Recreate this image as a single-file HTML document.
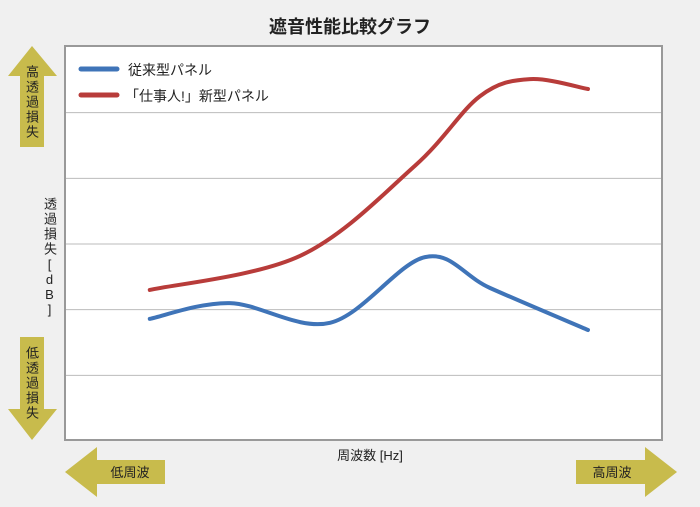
<!DOCTYPE html>
<html><head><meta charset="utf-8"><style>
body{margin:0;background:#f0f0f0;font-family:"Liberation Sans","Noto Sans CJK JP",sans-serif;}
#c{position:relative;width:700px;height:507px;overflow:hidden}
.vt{position:absolute;writing-mode:vertical-rl;font-size:13px;color:#222;line-height:1;letter-spacing:2px}
</style></head><body><div id="c">
<svg width="700" height="507" style="position:absolute;left:0;top:0" id="svg">
<text x="350" y="33" text-anchor="middle" font-size="18" font-weight="bold" fill="#222">遮音性能比較グラフ</text>
<rect x="65" y="46" width="597" height="394" fill="#fff" stroke="#999" stroke-width="2"/>
<g id="grid"></g>
<g id="series"></g>
<polygon points="32,46 57,76 44,76 44,147 20,147 20,76 8,76" fill="#c8bb4c"/>
<polygon points="32,440 57,409 44,409 44,337 20,337 20,409 8,409" fill="#c8bb4c"/>
<polygon points="65,472 97,447 97,460 165,460 165,484 97,484 97,497" fill="#c8bb4c"/>
<polygon points="677,472 645,447 645,460 576,460 576,484 645,484 645,497" fill="#c8bb4c"/>
<text x="130" y="477" text-anchor="middle" font-size="13" fill="#222">低周波</text>
<text x="612" y="477" text-anchor="middle" font-size="13" fill="#222">高周波</text>
<text x="370" y="460" text-anchor="middle" font-size="13" fill="#222">周波数 [Hz]</text>
<line x1="81" y1="69" x2="117" y2="69" stroke="#3f74b8" stroke-width="5" stroke-linecap="round"/>
<text x="128" y="75" font-size="14" fill="#222">従来型パネル</text>
<line x1="81" y1="95" x2="117" y2="95" stroke="#b83c3a" stroke-width="5" stroke-linecap="round"/>
<text x="125" y="101" font-size="14" fill="#222">「仕事人!」新型パネル</text>
</svg>
<div class="vt" style="left:25px;top:65px">高透過損失</div>
<div class="vt" style="left:25px;top:346px">低透過損失</div>
<div class="vt" style="left:43px;top:197px">透過損失<span style="text-orientation:upright;letter-spacing:0">[dB]</span></div>
</div>
<script>
const gridValues=[1,2,3,4,5];
const seriesNames=["従来型パネル","「仕事人!」新型パネル"];
const blueX=[1.42,2.76,4.44,6.03,7.12,8.76];
const blueY=[1.86,2.10,1.80,2.80,2.33,1.69];
const redX=[1.42,3.94,5.86,6.95,7.79,8.76];
const redY=[2.30,2.82,4.19,5.25,5.51,5.36];
const NS="http://www.w3.org/2000/svg";
function xs(v){return 65+v*59.7;}
function ys(v){return 441-v*65.67;}
const g=document.getElementById('grid');
gridValues.forEach(v=>{const l=document.createElementNS(NS,'line');


l.setAttribute('x1',66);l.setAttribute('x2',661);l.setAttribute('y1',ys(v));l.setAttribute('y2',ys(v));
l.setAttribute('stroke','#bbb');l.setAttribute('stroke-width','1');g.appendChild(l);});
function path(X,Y){const p=X.map((x,i)=>[xs(x),ys(Y[i])]);let d='M'+p[0][0]+','+p[0][1];
for(let i=0;i<p.length-1;i++){const p0=p[Math.max(0,i-1)],p1=p[i],p2=p[i+1],p3=p[Math.min(p.length-1,i+2)];
const c1=[p1[0]+(p2[0]-p0[0])/6,p1[1]+(p2[1]-p0[1])/6],c2=[p2[0]-(p3[0]-p1[0])/6,p2[1]-(p3[1]-p1[1])/6];
d+=' C'+c1+' '+c2+' '+p2;}return d;}
const s=document.getElementById('series');
[[blueX,blueY,'#3f74b8','line-conventional'],[redX,redY,'#b83c3a','line-new']].forEach(a=>{
const el=document.createElementNS(NS,'path');


el.setAttribute('d',path(a[0],a[1]));el.setAttribute('fill','none');el.setAttribute('stroke',a[2]);el.setAttribute('stroke-width','4');el.setAttribute('stroke-linecap','round');s.appendChild(el);});
</script></body></html>
